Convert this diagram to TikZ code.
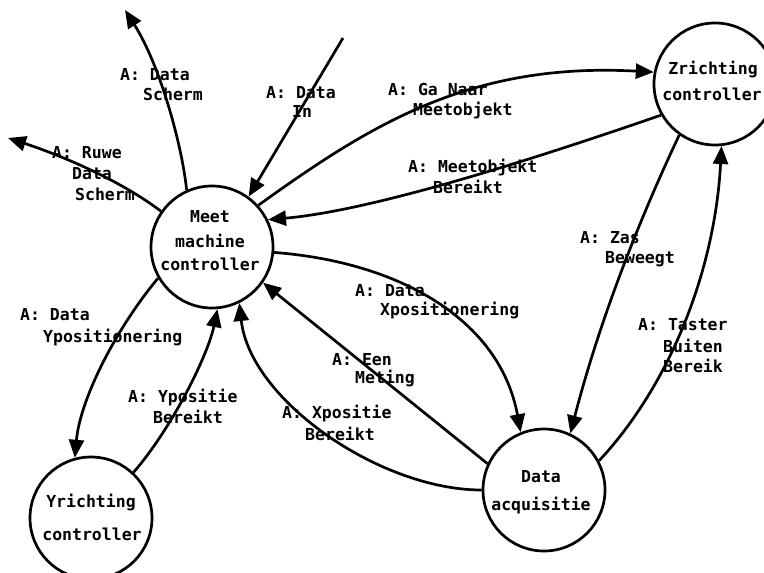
\documentclass[tikz,border=0pt]{standalone}
\usepackage{fontspec}
\setmonofont{DejaVu Sans Mono}
\usetikzlibrary{arrows.meta}
\begin{document}
\begin{tikzpicture}[x=1pt,y=-1pt,
  proc/.style={circle,draw,line width=2.7pt,minimum size=122pt,inner sep=0pt},
  flow/.style={line width=2.7pt,-{Triangle[length=18pt,width=15pt]}},
  txt/.style={inner sep=0pt,font=\ttfamily\bfseries\fontsize{16.5}{20}\selectfont},
  lbl/.style={txt,anchor=base west},
  ctr/.style={txt,anchor=base}]
\useasboundingbox (0,0) rectangle (764,573);

% processes
\node[proc] (meet) at (212,247) {};
\node[proc] (zr)   at (715,84)  {};
\node[proc] (yr)   at (91,518)  {};
\node[proc] (da)   at (544,490) {};

\node[ctr] (meet1) at (210,222) {Meet};
\node[ctr] (meet2) at (210,247) {machine};
\node[ctr] (meet3) at (210,270) {controller};
\node[ctr] (zr1) at (713,74)  {Zrichting};
\node[ctr] (zr2) at (712,100) {controller};
\node[ctr] (yr1) at (91,507)  {Yrichting};
\node[ctr] (yr2) at (92,540)  {controller};
\node[ctr] (da1) at (541,482) {Data};
\node[ctr] (da2) at (541,510) {acquisitie};

% free ends
\coordinate (schermTip) at (125,10);
\coordinate (ruweTip)   at (8,138);
\coordinate (inStart)   at (343,38);

% flows
\draw[flow] (meet.114) .. controls (182,145) and (160,65) .. (schermTip);
\draw[flow] (inStart) -- (meet.54);
\draw[flow] (meet.145) .. controls (120,180) and (60,155) .. (ruweTip);
\draw[flow] (meet.42) .. controls (370,125) and (470,62) .. (zr.169);
\draw[flow] (zr.210) .. controls (560,150) and (380,210) .. (meet.26);
\draw[flow] (zr.235) .. controls (632,235) and (596,334) .. (da.65);
\draw[flow] (da.28) .. controls (670,385) and (715,270) .. (zr.276);
\draw[flow] (meet.355) .. controls (400,262) and (500,320) .. (da.112);
\draw[flow] (da.155) -- (meet.325);
\draw[flow] (da.180) .. controls (380,490) and (250,400) .. (meet.296);
\draw[flow] (meet.210) .. controls (115,330) and (80,400) .. (yr.105);
\draw[flow] (yr.47) .. controls (172,428) and (208,355) .. (meet.275);

% flow labels
\node[lbl] (s1) at (120,80)  {A: Data};
\node[lbl] (s2) at (143,100) {Scherm};
\node[lbl] (i1) at (266,98)  {A: Data};
\node[lbl] (i2) at (292,117) {In};
\node[lbl] (r1) at (52,158)  {A: Ruwe};
\node[lbl] (r2) at (72,179)  {Data};
\node[lbl] (r3) at (75,200)  {Scherm};
\node[lbl] (g1) at (388,95)  {A: Ga Naar};
\node[lbl] (g2) at (413,115) {Meetobjekt};
\node[lbl] (m1) at (408,172) {A: Meetobjekt};
\node[lbl] (m2) at (433,193) {Bereikt};
\node[lbl] (z1) at (580,243) {A: Zas};
\node[lbl] (z2) at (605,263) {Beweegt};
\node[lbl] (t1) at (638,330) {A: Taster};
\node[lbl] (t2) at (663,352) {Buiten};
\node[lbl] (t3) at (663,372) {Bereik};
\node[lbl] (x1) at (355,296) {A: Data};
\node[lbl] (x2) at (380,315) {Xpositionering};
\node[lbl] (e1) at (332,365) {A: Een};
\node[lbl] (e2) at (355,383) {Meting};
\node[lbl] (xb1) at (282,418) {A: Xpositie};
\node[lbl] (xb2) at (305,440) {Bereikt};
\node[lbl] (y1) at (20,320)  {A: Data};
\node[lbl] (y2) at (43,342)  {Ypositionering};
\node[lbl] (yb1) at (128,402) {A: Ypositie};
\node[lbl] (yb2) at (153,423) {Bereikt};
\end{tikzpicture}
\end{document}
